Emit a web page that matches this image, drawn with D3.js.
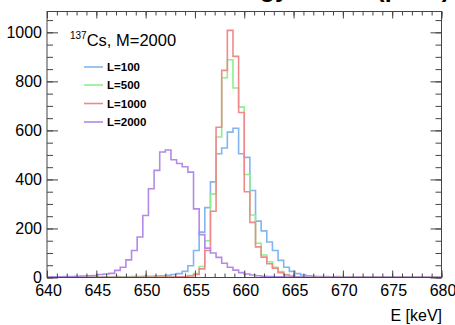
<!DOCTYPE html>
<html>
<head>
<meta charset="utf-8">
<script src="https://cdn.jsdelivr.net/npm/d3@7"></script>
<style>
  body { margin: 0; background: #fff; }
  svg { font-family: "Liberation Sans", Arial, Helvetica, sans-serif; display: block; }
</style>
</head>
<body>
<div id="chart"></div>
<script>
// histogram binning
var binLow = 640, binHigh = 680, nBins = 70;

var seriesNames = ["L=100", "L=500", "L=1000", "L=2000"];
var seriesColors = ["#82b4f0", "#8eee8e", "#f08a8a", "#b38ae8"];

// counts per bin
var countsL100 = [3,2,3,2,3,3,2,3,3,2, 3,3,4,3,3,4,4,5,5,6,
  7,9,12,16,25,48,110,185,285,390, 505,528,593,609,505,490,355,230,190,145,
  110,70,42,25,16,10,7,5,4,4, 3,4,3,3,2,3,3,2,3,2, 3,2,2,3,2,2,3,2,2,2];
var countsL500 = [1,1,2,1,1,2,1,1,2,1, 1,2,1,2,2,1,2,2,2,3,
  2,3,3,3,4,8,16,45,150,340, 573,815,888,773,695,420,255,140,92,64,
  42,24,12,6,3,2,2,1,2,1, 1,1,2,1,1,1,1,2,1,1, 1,1,1,1,1,1,1,1,1,1];
var countsL1000 = [1,1,1,1,1,1,1,1,1,1, 1,1,1,1,1,1,1,2,1,2,
  2,2,2,3,3,6,12,35,110,270, 613,845,1008,902,673,350,225,125,83,56,
  38,20,10,5,2,2,1,1,1,1, 1,1,1,1,1,1,1,1,1,1, 1,1,1,1,1,1,1,1,1,1];
var countsL2000 = [2,3,3,4,4,5,6,7,8,12, 14,17,29,42,72,110,165,253,362,437,
  512,520,480,465,452,430,280,175,120,100, 82,58,42,30,20,14,10,7,5,4,
  3,3,2,2,2,2,1,1,1,1, 1,1,1,1,1,1,1,1,1,1, 1,1,1,1,1,1,1,1,1,1];

var xTicks = [640, 645, 650, 655, 660, 665, 670, 675, 680];
var yTicks = [0, 200, 400, 600, 800, 1000];
var yMax = 1085;

var allCounts = [countsL100, countsL500, countsL1000, countsL2000];

var width = 455, height = 325;
var frame = { left: 47, right: 441.5, top: 11.5, bottom: 277.5 };

var svg = d3.select("#chart").append("svg")
  .attr("width", width)
  .attr("height", height);

var x = d3.scaleLinear().domain([binLow, binHigh]).range([frame.left, frame.right]);
var y = d3.scaleLinear().domain([0, yMax]).range([frame.bottom, frame.top]);

// title, mostly cut off by the top of the picture
svg.append("text")
  .attr("x", 450)
  .attr("y", -3)
  .attr("text-anchor", "end")
  .attr("font-weight", "bold")
  .attr("font-size", 25)
  .attr("fill", "#000")
  .text("Energy histos (peak)");

svg.append("defs").append("clipPath").attr("id", "frameClip")
  .append("rect")
  .attr("x", frame.left).attr("y", frame.top)
  .attr("width", frame.right - frame.left)
  .attr("height", frame.bottom - frame.top);

// histograms
var binW = (binHigh - binLow) / nBins;
var step = d3.line()
  .x(function(d) { return x(d[0]); })
  .y(function(d) { return y(d[1]); })
  .curve(d3.curveStepAfter);

allCounts.forEach(function(counts, i) {
  var pts = counts.map(function(c, k) { return [binLow + k * binW, c]; });
  pts.push([binHigh, counts[counts.length - 1]]);
  svg.append("path")
    .attr("clip-path", "url(#frameClip)")
    .attr("d", step(pts))
    .attr("fill", "none")
    .attr("stroke", seriesColors[i])
    .attr("stroke-width", 1.6);
});

// axes: ticks inside the frame on all four sides
var axisColor = "#444";
function styleAxis(g) {
  g.select(".domain").remove();
  g.selectAll("line").attr("stroke", axisColor);
  g.selectAll("text").attr("fill", "#000").attr("font-size", 16);
}

svg.append("g")
  .attr("transform", "translate(0," + frame.bottom + ")")
  .call(d3.axisBottom(x).tickValues(d3.range(binLow, binHigh + 1, 1)).tickSize(-4).tickFormat(""))
  .call(styleAxis);
svg.append("g")
  .attr("transform", "translate(0," + frame.bottom + ")")
  .call(d3.axisBottom(x).tickValues(xTicks).tickSize(-7).tickPadding(7).tickFormat(d3.format("d")))
  .call(styleAxis)
  .selectAll("text").attr("dx", 1);

svg.append("g")
  .attr("transform", "translate(0," + frame.top + ")")
  .call(d3.axisTop(x).tickValues(d3.range(binLow, binHigh + 1, 1)).tickSize(-4).tickFormat(""))
  .call(styleAxis);
svg.append("g")
  .attr("transform", "translate(0," + frame.top + ")")
  .call(d3.axisTop(x).tickValues(xTicks).tickSize(-7).tickFormat(""))
  .call(styleAxis);

svg.append("g")
  .attr("transform", "translate(" + frame.left + ",0)")
  .call(d3.axisLeft(y).tickValues(d3.range(0, yMax, 50)).tickSize(-6).tickFormat(""))
  .call(styleAxis);
svg.append("g")
  .attr("transform", "translate(" + frame.left + ",0)")
  .call(d3.axisLeft(y).tickValues(yTicks).tickSize(-11).tickPadding(5).tickFormat(d3.format("d")))
  .call(styleAxis);

svg.append("g")
  .attr("transform", "translate(" + frame.right + ",0)")
  .call(d3.axisRight(y).tickValues(d3.range(0, yMax, 50)).tickSize(-6).tickFormat(""))
  .call(styleAxis);
svg.append("g")
  .attr("transform", "translate(" + frame.right + ",0)")
  .call(d3.axisRight(y).tickValues(yTicks).tickSize(-11).tickFormat(""))
  .call(styleAxis);

// frame
svg.append("rect")
  .attr("x", frame.left).attr("y", frame.top)
  .attr("width", frame.right - frame.left)
  .attr("height", frame.bottom - frame.top)
  .attr("fill", "none")
  .attr("stroke", axisColor)
  .attr("stroke-width", 1);

// axis title
svg.append("text")
  .attr("x", 442)
  .attr("y", 321)
  .attr("text-anchor", "end")
  .attr("font-size", 16)
  .text("E [keV]");

// legend header with superscript
var header = svg.append("text").attr("x", 70).attr("y", 46).attr("font-size", 16.5);
header.append("tspan").attr("font-size", 10).attr("dy", -7).text("137");
header.append("tspan").attr("dy", 7).text("Cs, M=2000");

var legendY = [67, 85, 103.5, 122];
seriesNames.forEach(function(name, i) {
  svg.append("line")
    .attr("x1", 84).attr("x2", 103)
    .attr("y1", legendY[i]).attr("y2", legendY[i])
    .attr("stroke", seriesColors[i])
    .attr("stroke-width", 1.6);
  svg.append("text")
    .attr("x", 107)
    .attr("y", legendY[i] + 4)
    .attr("font-size", 11.5)
    .attr("font-weight", "bold")
    .text(name);
});
</script>
</body>
</html>
